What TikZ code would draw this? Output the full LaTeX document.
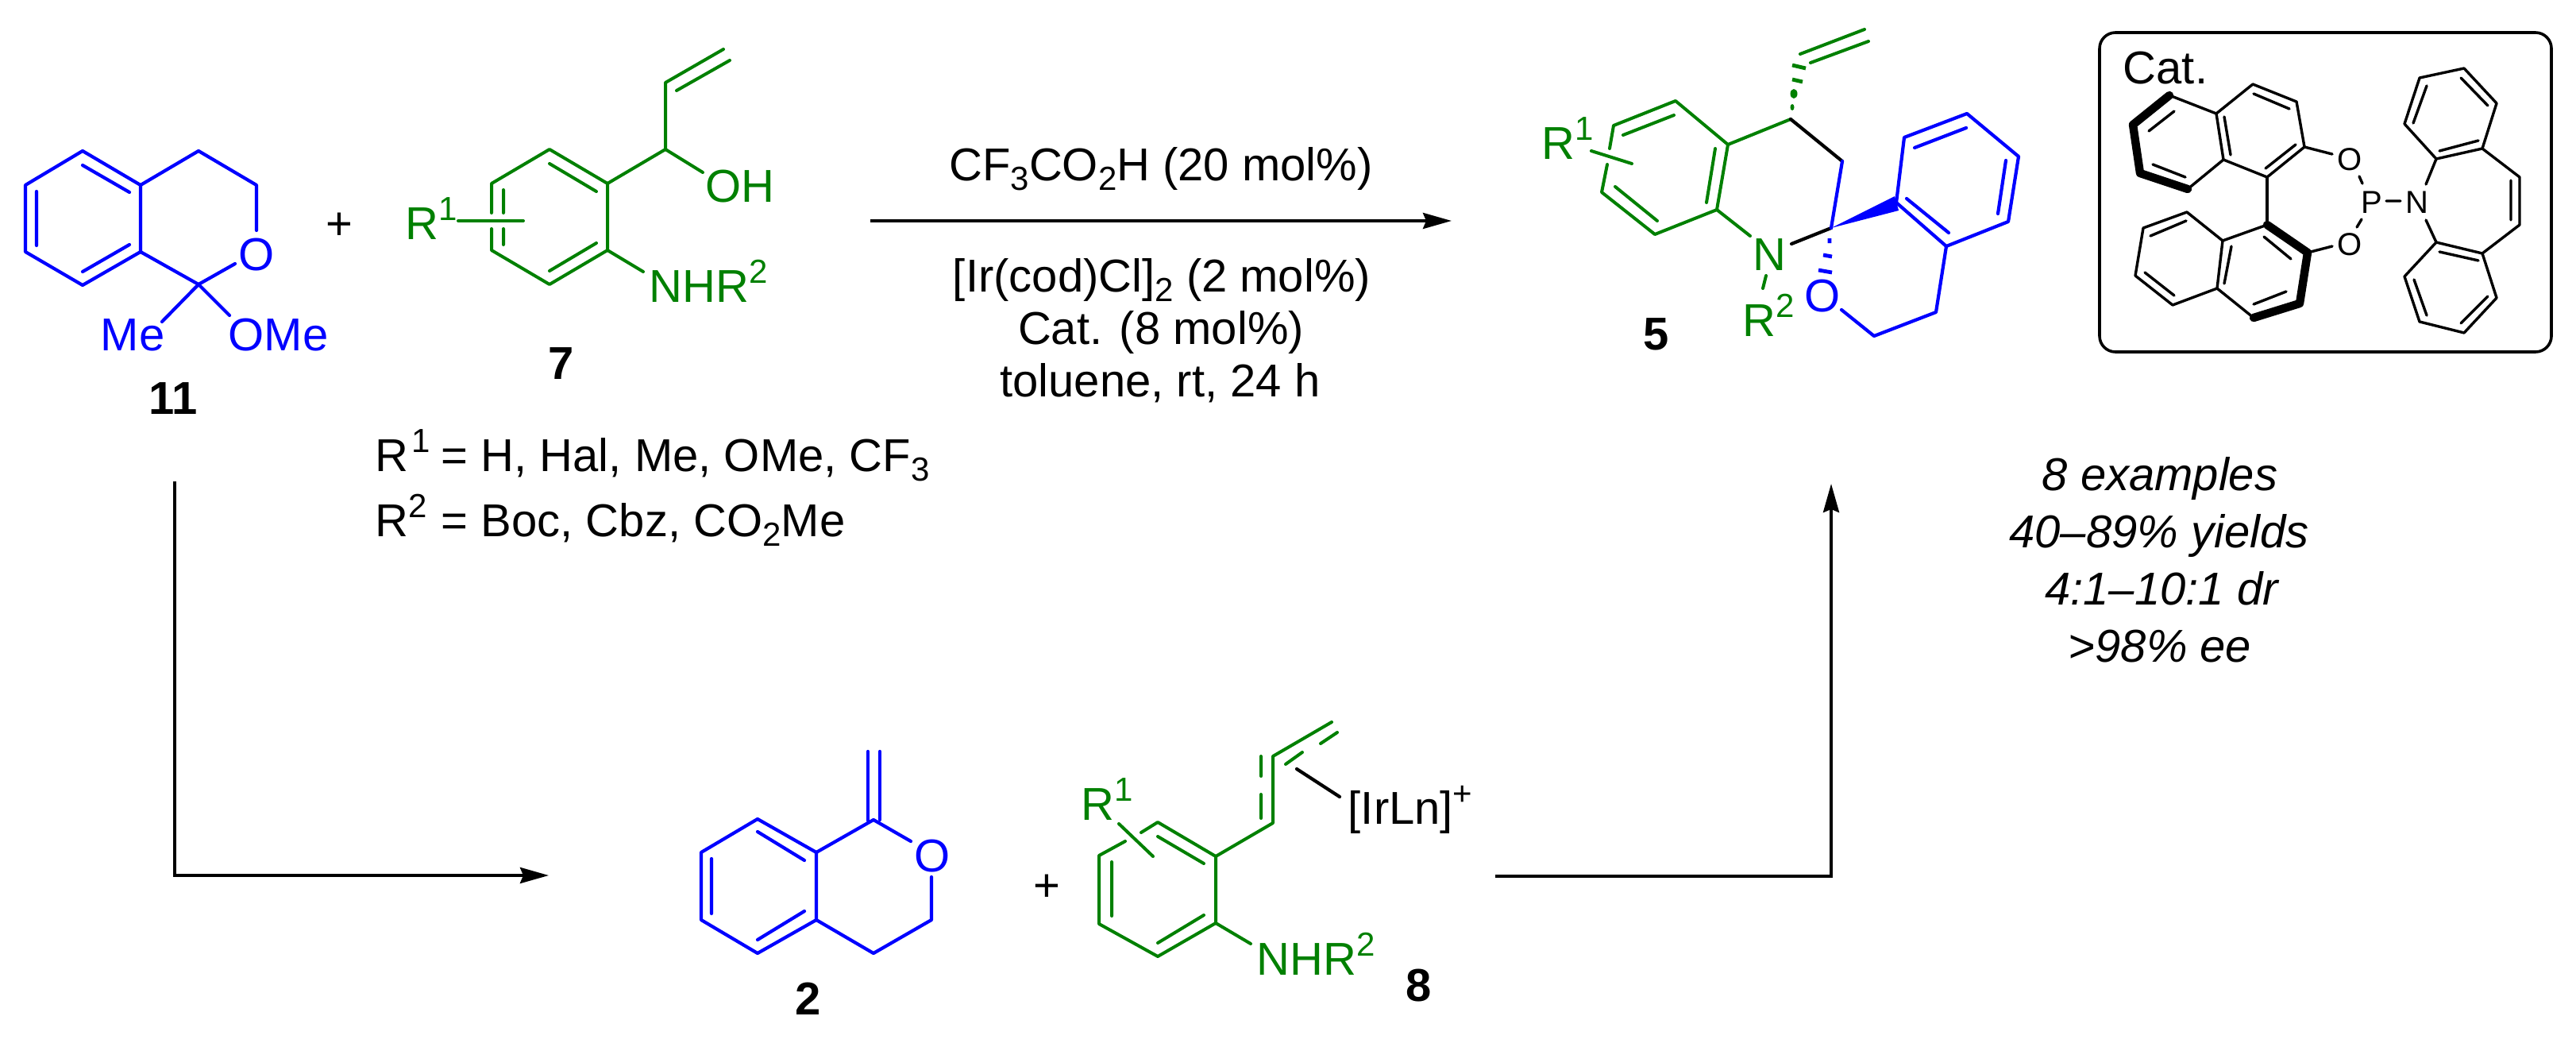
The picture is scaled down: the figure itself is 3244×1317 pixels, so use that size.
\documentclass[tikz,border=0pt]{standalone}
\usepackage{fontspec}
\setmainfont{Liberation Sans}
\usetikzlibrary{arrows.meta}
\definecolor{chemgreen}{RGB}{0,128,0}
\definecolor{chemblue}{RGB}{0,0,255}
\newcommand\chsup[1]{\raisebox{5.9pt}{\fontsize{10.5}{10.5}\selectfont #1}}
\newcommand\chsub[1]{\raisebox{-3pt}{\fontsize{10.5}{10.5}\selectfont #1}}
\newcommand\rbox[1]{\makebox[20.75pt][l]{R\hspace{#1}}}
\tikzset{
  gb/.style={draw=chemgreen,line width=1pt,line cap=round,line join=round},
  bb/.style={draw=chemblue,line width=1.05pt,line cap=round,line join=round},
  kb/.style={draw=black,line width=1.05pt,line cap=round,line join=round},
  cb/.style={draw=black,line width=.85pt,line cap=round,line join=round},
  cbold/.style={draw=black,line width=2.6pt,line cap=round,line join=round},
  arr/.style={draw=black,line width=.95pt,-{Stealth[length=9pt,width=5pt,inset=1pt]}},
  txt/.style={inner sep=0pt,anchor=base west,font=\fontsize{14.5}{14.5}\selectfont},
  gtxt/.style={txt,text=chemgreen},
  btxt/.style={txt,text=chemblue},
  ctxt/.style={inner sep=0pt,anchor=base west,font=\fontsize{10}{10}\selectfont},
  mid/.style={txt,anchor=base},
  itl/.style={inner sep=0pt,anchor=base,font=\fontsize{14.5}{14.5}\selectfont\itshape},
  num/.style={inner sep=0pt,anchor=base,font=\fontsize{14.5}{14.5}\selectfont\bfseries},
}
\begin{document}
\begin{tikzpicture}[x=.25pt,y=-.25pt]
\useasboundingbox (0,0) rectangle (3244,1317);
% ---- 11
\draw[bb] (104,190)--(32,233)--(32,317)--(104,359)--(177,317)--(177,233)--cycle;
\draw[bb] (104,208)--(163,242) (46,241)--(46,309) (104,342)--(163,308);
\draw[bb] (177,233)--(250,190)--(323,233)--(323,290) (177,317)--(250,358)--(296,332);
\draw[bb] (250,358)--(204,405) (250,358)--(289,397);
\node[btxt] (o11) at (300,340) {O};
\node[btxt] (me11) at (126,441) {Me};
\node[btxt] (ome11) at (287,441) {OMe};
\node[num] (n11) at (218,521) {11};
\node[mid] (plus1) at (427,301) {+};
% ---- 7
\draw[gb] (619,268)--(619,231)--(692,188)--(765,231)--(765,315)--(692,358)--(619,315)--(619,288);
\draw[gb] (692,206)--(751,241) (692,341)--(751,306) (634,239)--(634,268) (634,288)--(634,308);
\draw[gb] (577,278)--(659,278);
\draw[gb] (765,231)--(838,188)--(838,104)--(911,62) (852,114)--(919,76);
\draw[gb] (838,188)--(885,217) (765,315)--(810,342);
\node[gtxt] (r7) at (510,301) {R\chsup{1}};
\node[gtxt] (oh7) at (888,254) {OH};
\node[gtxt] (nh7) at (817,380) {NHR\chsup{2}};
\node[num] (n7) at (707,477) {7};
\node[txt] (def1) at (472,593) {\makebox[20.75pt][l]{R\hspace{1pt}\chsup{1}}= H, Hal, Me, OMe, CF\chsub{3}};
\node[txt] (def2) at (472,675) {\makebox[20.75pt][l]{R\chsup{2}}= Boc, Cbz, CO\chsub{2}Me};
% ---- conditions
\coordinate (a1s) at (1096,278);
\coordinate (a1e) at (1828,278);
\draw[arr] (a1s)--(a1e);
\node[mid] (c1) at (1462,227) {CF\chsub{3}CO\chsub{2}H (20 mol\%)};
\node[mid] (c2) at (1463,367) {[Ir(cod)Cl]\chsub{2} (2 mol\%)};
\node[mid] (c3) at (1462,433) {Cat. (8 mol\%)};
\node[mid] (c4) at (1461,499) {toluene, rt, 24 h};
% ---- 5
\draw[gb] (2027,187)--(2032,158)--(2110,127)--(2176,182)--(2162,264)--(2084,295)--(2017,242)--(2024,207);
\draw[gb] (2044,170)--(2108,145) (2160,187)--(2149,255) (2034,235)--(2087,278);
\draw[gb] (2004,190)--(2055,206);
\draw[gb] (2176,182)--(2255,150) (2162,264)--(2204,297) (2224,347)--(2220,363);
\draw[gb] (2267,68)--(2348,37) (2280,79)--(2353,52);
\draw[gb,line width=1.2pt,line cap=butt] (2257,82)--(2274,86) (2257,100)--(2270,103);
\fill[chemgreen] (2259,118) ellipse [x radius=4.5,y radius=6];
\fill[chemgreen] (2257,135) ellipse [x radius=2.5,y radius=4];
\draw[kb] (2255,150)--(2320,203) (2256,307)--(2306,287);
\draw[bb] (2320,203)--(2306,287);
\fill[chemblue] (2306,287)--(2386,247)--(2391,265)--cycle;
\draw[bb] (2388,255)--(2398,173)--(2477,143)--(2542,197)--(2529,279)--(2451,310)--cycle;
\draw[bb] (2411,186)--(2476,161) (2526,202)--(2516,269) (2401,250)--(2454,293);
\draw[bb] (2451,310)--(2438,393)--(2360,423)--(2319,390);
\draw[bb,line width=1.2pt,line cap=butt] (2304,300)--(2304,306) (2296,321)--(2307,323) (2290,340)--(2307,343);
\node[gtxt] (r5) at (1941,200) {R\chsup{1}};
\node[gtxt] (n5) at (2207,340) {N};
\node[gtxt] (rr5) at (2194,423) {R\chsup{2}};
\node[btxt] (o5) at (2272,392) {O};
\node[num] (n5l) at (2086,440) {5};
% ---- catalyst box
\node[draw=black,line width=.9pt,rounded corners=5pt,minimum width=142.25pt,minimum height=100.5pt,inner sep=0pt] (catbox) at (2928.5,242) {};
\node[txt] (cat) at (2673,105) {Cat.};
% upper naphthyl
\draw[cbold] (2732,120)--(2686,157)--(2695,218)--(2755,238);
\draw[cb] (2732,120)--(2791,143)--(2837,106)--(2892,128)--(2902,185)--(2855,223)--(2800,201)--(2755,238);
\draw[cb] (2791,143)--(2800,201);
\draw[cb] (2838,118)--(2883,137) (2891,182)--(2853,212) (2801,147)--(2809,195) (2711,207)--(2752,223) (2706,165)--(2738,140);
\draw[cb] (2855,223)--(2855,283);
% lower naphthyl
\draw[cbold] (2855,283)--(2906,318)--(2896,382)--(2838,400);
\draw[cb] (2855,283)--(2799,303)--(2754,267)--(2699,287)--(2689,347)--(2736,384)--(2792,363)--(2838,400);
\draw[cb] (2799,303)--(2792,363);
\draw[cb] (2851,298)--(2885,326) (2879,367)--(2838,383) (2810,310)--(2801,357) (2701,343)--(2738,372) (2708,297)--(2753,278);
% phosphoramidite
\draw[cb] (2902,185)--(2937,194) (2906,318)--(2937,310) (2971,222)--(2975,231) (2974,276)--(2968,286) (3005,253)--(3023,253);
\draw[cb] (3055,232)--(3068,200) (3055,277)--(3068,305);
\draw[cb] (3068,200)--(3028,156)--(3047,98)--(3103,86)--(3144,130)--(3126,187)--cycle;
\draw[cb] (3056,108)--(3039,155) (3099,98)--(3133,133) (3121,177)--(3072,190);
\draw[cb] (3126,187)--(3173,223)--(3173,283)--(3126,319) (3162,227)--(3162,277);
\draw[cb] (3126,319)--(3068,305)--(3028,348)--(3047,405)--(3103,419)--(3144,375)--cycle;
\draw[cb] (3121,328)--(3072,317) (3040,352)--(3056,397) (3099,407)--(3133,373);
\node[ctxt] (co1) at (2943,214) {O};
\node[ctxt] (co2) at (2943,321) {O};
\node[ctxt] (cp) at (2973,268) {P};
\node[ctxt] (cn) at (3029,268) {N};
% ---- results
\node[itl] (r1) at (2720,617) {8 examples};
\node[itl] (r2) at (2719,689) {40–89\% yields};
\node[itl] (r3) at (2722,761) {4:1–10:1 dr};
\node[itl] (r4) at (2720,833) {>98\% ee};
% ---- long arrows
\coordinate (a2s) at (220,606);
\coordinate (a2c) at (220,1102);
\coordinate (a2e) at (691,1102);
\draw[arr] (a2s)--(a2c)--(a2e);
\coordinate (a3s) at (1883,1103);
\coordinate (a3c) at (2306,1103);
\coordinate (a3e) at (2306,609);
\draw[arr] (a3s)--(a3c)--(a3e);
% ---- 2
\draw[bb] (954,1031)--(883,1073)--(883,1158)--(954,1200)--(1028,1158)--(1028,1073)--cycle;
\draw[bb] (954,1047)--(1013,1083) (896,1081)--(896,1150) (954,1183)--(1013,1147);
\draw[bb] (1028,1073)--(1100,1032)--(1147,1059) (1173,1104)--(1173,1158)--(1100,1200)--(1028,1158);
\draw[bb] (1093,946)--(1093,1033) (1108,946)--(1108,1032);
\node[btxt] (o2) at (1151,1097) {O};
\node[num] (n2) at (1018,1277) {2};
\node[mid] (plus2) at (1318,1134) {+};
% ---- 8
\draw[gb] (1417,1059)--(1384,1077)--(1384,1163)--(1458,1204)--(1531,1162)--(1531,1078)--(1458,1035)--(1437,1048);
\draw[gb] (1458,1053)--(1516,1087) (1400,1085)--(1400,1153) (1458,1187)--(1516,1152);
\draw[gb] (1409,1037)--(1452,1078);
\draw[gb] (1531,1078)--(1603,1036)--(1603,952)--(1677,909);
\draw[gb] (1588,1030)--(1588,1000) (1588,977)--(1588,952) (1619,962)--(1640,947) (1663,936)--(1684,922);
\draw[gb] (1531,1162)--(1575,1188);
\draw[kb] (1633,968)--(1687,1003);
\node[gtxt] (r8) at (1361,1032) {R\chsup{1}};
\node[txt] (ir) at (1697,1037) {[IrLn]\chsup{+}};
\node[gtxt] (nh8) at (1582,1227) {NHR\chsup{2}};
\node[num] (n8) at (1787,1260) {8};
\end{tikzpicture}
\end{document}
